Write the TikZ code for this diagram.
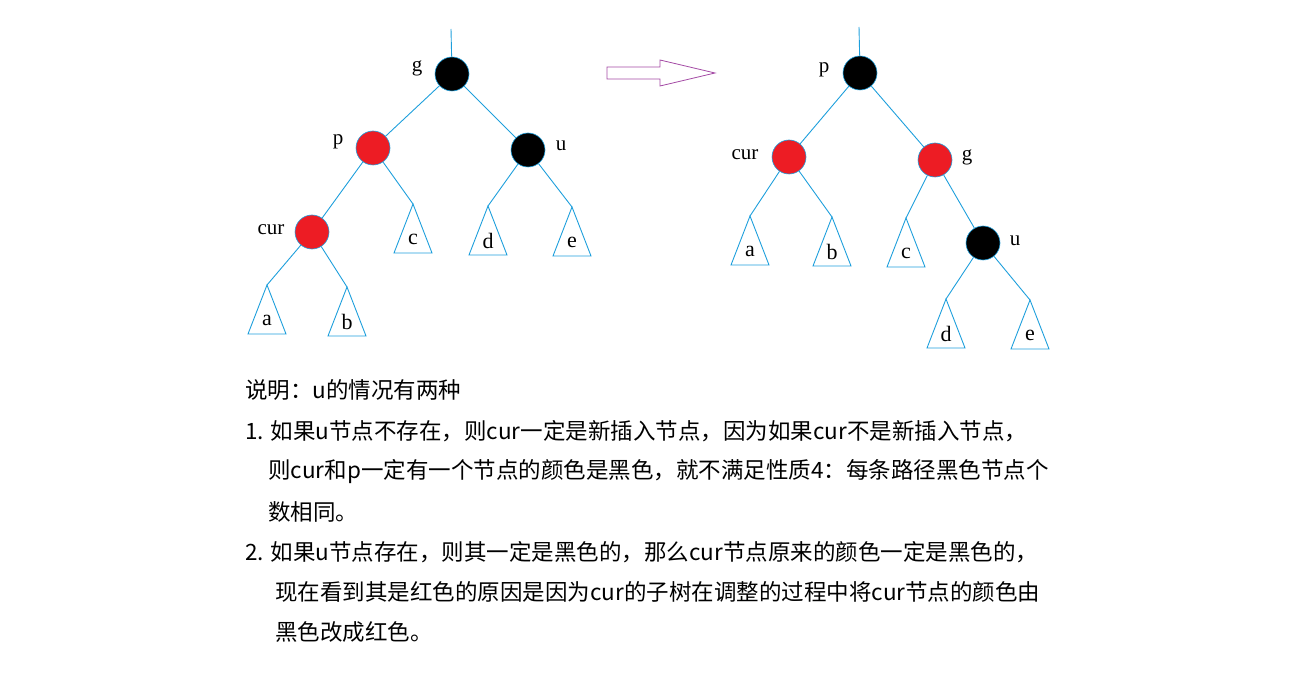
\documentclass[tikz,border=0pt]{standalone}
\usepackage{fontspec}
\setmainfont{Liberation Serif}
\newfontfamily\cjk{Noto Sans CJK SC}
\definecolor{lb}{HTML}{1E9FDC}
\definecolor{rd}{HTML}{ED1C24}
\definecolor{pu}{HTML}{A349A4}
\begin{document}
\begin{tikzpicture}[x=1pt,y=-1pt,
  edge/.style={draw=lb,line width=0.9pt},
  bn/.style={circle,fill=black,draw=lb,line width=0.6pt,minimum size=34pt,inner sep=0pt},
  rn/.style={circle,fill=rd,draw=lb,line width=0.6pt,minimum size=34pt,inner sep=0pt},
  lbl/.style={font=\fontsize{21}{21}\selectfont},
  tl/.style={font=\fontsize{22}{22}\selectfont},
  txt/.style={anchor=west,font=\cjk\fontsize{22.5}{22.5}\selectfont,inner sep=0pt}]
\useasboundingbox (0,0) rectangle (1311,676);
\tikzset{tri/.pic={\draw[lb,line width=0.9pt] (0,0) coordinate (-apex) -- (19,49) -- (-19,49) -- cycle;
  \node[tl] at (0,35) {\tikzpictext};}}
% left tree
\node[bn] (g) at (452,74) {};
\node[rn] (p) at (373,148) {};
\node[bn] (u) at (528,150) {};
\node[rn] (c1) at (312,232) {};
\coordinate (gt) at (451,29);
\draw[edge] (gt) -- (g);
\pic[pic text=c] (tc) at (413,204) {tri};
\pic[pic text=d] (td) at (488,206) {tri};
\pic[pic text=e] (te) at (572,207) {tri};
\pic[pic text=a] (ta) at (267,285) {tri};
\pic[pic text=b] (tb) at (347,287) {tri};
\draw[edge] (g) -- (p); \draw[edge] (g) -- (u);
\draw[edge] (p) -- (c1); \draw[edge] (p) -- (tc-apex);
\draw[edge] (u) -- (td-apex); \draw[edge] (u) -- (te-apex);
\draw[edge] (c1) -- (ta-apex); \draw[edge] (c1) -- (tb-apex);
\node[lbl] (lg) at (417,68) {g};
\node[lbl] (lp) at (338,142) {p};
\node[lbl] (lu) at (561,146) {u};
\node[lbl] (lc) at (271,230) {cur};
% arrow
\draw[pu,line width=0.8pt] (607,67) -- (660,67) -- (660,60) -- (715,73) -- (660,86) -- (660,79) -- (607,79) -- cycle;
% right tree
\node[bn] (P) at (860,73) {};
\node[rn] (C) at (789,157) {};
\node[rn] (G) at (935,160) {};
\node[bn] (U) at (983,243) {};
\coordinate (Pt) at (859,27);
\draw[edge] (Pt) -- (P);
\pic[pic text=a] (Ta) at (750,216) {tri};
\pic[pic text=b] (Tb) at (832,217) {tri};
\pic[pic text=c] (Tc) at (906,218) {tri};
\pic[pic text=d] (Td) at (946,299) {tri};
\pic[pic text=e] (Te) at (1030,300) {tri};
\draw[edge] (P) -- (C); \draw[edge] (P) -- (G);
\draw[edge] (C) -- (Ta-apex); \draw[edge] (C) -- (Tb-apex);
\draw[edge] (G) -- (Tc-apex); \draw[edge] (G) -- (U);
\draw[edge] (U) -- (Td-apex); \draw[edge] (U) -- (Te-apex);
\node[lbl] (LP) at (824,70) {p};
\node[lbl] (LC) at (745,155) {cur};
\node[lbl] (LG) at (967,157) {g};
\node[lbl] (LU) at (1015,241) {u};
% text
\node[txt] (t1) at (245,390) {说明：u的情况有两种};
\node[txt] (t2) at (245,431) {1. 如果u节点不存在，则cur一定是新插入节点，因为如果cur不是新插入节点，};
\node[txt] (t3) at (268,472) {则cur和p一定有一个节点的颜色是黑色，就不满足性质4：每条路径黑色节点个};
\node[txt] (t4) at (268,512) {数相同。};
\node[txt] (t5) at (245,552) {2. 如果u节点存在，则其一定是黑色的，那么cur节点原来的颜色一定是黑色的，};
\node[txt] (t6) at (275,592) {现在看到其是红色的原因是因为cur的子树在调整的过程中将cur节点的颜色由};
\node[txt] (t7) at (275,632) {黑色改成红色。};
\end{tikzpicture}
\end{document}
